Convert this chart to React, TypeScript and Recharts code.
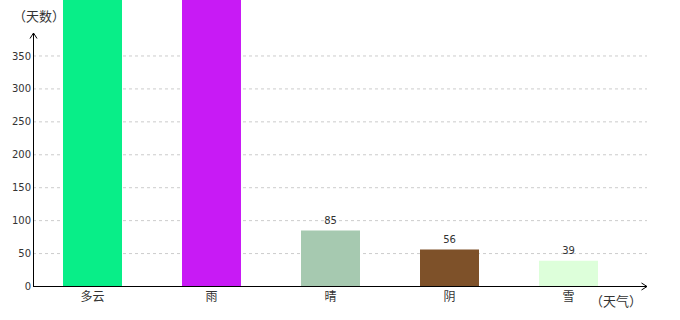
import React from 'react';
import { BarChart, Bar, XAxis, YAxis, CartesianGrid, Cell, LabelList } from 'recharts';

const categories = ['多云', '雨', '晴', '阴', '雪'];
const days = [480, 470, 85, 56, 39];
const barColors = ['#08EE88', '#C81AF5', '#A6C9B0', '#7E5129', '#DDFFDA'];
const yTicks = [0, 50, 100, 150, 200, 250, 300, 350];
const yMax = 435;
const yAxisName = '（天数）';
const xAxisName = '（天气）';

const data = categories.map((name, i) => ({ name, value: days[i] }));

const cjk = '"Noto Sans CJK SC", "DejaVu Sans", sans-serif';
const num = '"DejaVu Sans", sans-serif';

export default function App() {
  return (
    <div style={{ position: 'absolute', left: 0, top: 0, width: 680, height: 320, background: '#fff' }}>
      <BarChart width={680} height={320} data={data} margin={{ top: 0, right: 33, bottom: 0, left: 0 }}>
        <CartesianGrid vertical={false} horizontalValues={yTicks} stroke="#ccc" strokeDasharray="3 3" />
        <XAxis
          dataKey="name"
          height={33.5}
          padding={{ left: 0, right: 19 }}
          axisLine={{ stroke: '#000', strokeWidth: 1 }}
          tickLine={false}
          tickSize={0}
          tickMargin={6}
          tick={{ fontSize: 12, fill: '#333', fontFamily: cjk }}
          interval={0}
        />
        <YAxis
          width={33}
          domain={[0, yMax]}
          allowDataOverflow
          ticks={yTicks}
          axisLine={false}
          tickLine={false}
          tickSize={0}
          tickMargin={2}
          tick={{ fontSize: 10, fill: '#333', fontFamily: num }}
        />
        <Bar dataKey="value" barSize={59} isAnimationActive={false}>
          {data.map((d, i) => (
            <Cell key={d.name} fill={barColors[i]} />
          ))}
          <LabelList
            dataKey="value"
            position="top"
            offset={7}
            fill="#333"
            fontSize={10}
            fontFamily={num}
            formatter={(v: any) => (Number(v) > yMax ? '' : v)}
          />
        </Bar>
      </BarChart>
      <svg width={680} height={320} style={{ position: 'absolute', left: 0, top: 0, pointerEvents: 'none' }}>
        <line x1={33.5} y1={287} x2={33.5} y2={33} stroke="#000" strokeWidth={1} />
        <polyline points="30,38.5 33.5,33 37,38.5" fill="none" stroke="#000" strokeWidth={1} />
        <polyline points="641.5,283 647,286.5 641.5,290" fill="none" stroke="#000" strokeWidth={1} />
        <text x={13} y={15.5} dominantBaseline="central" fontSize={13} fill="#333" fontFamily={cjk}>{yAxisName}</text>
        <text x={590} y={300} dominantBaseline="central" fontSize={13} fill="#333" fontFamily={cjk}>{xAxisName}</text>
      </svg>
    </div>
  );
}
